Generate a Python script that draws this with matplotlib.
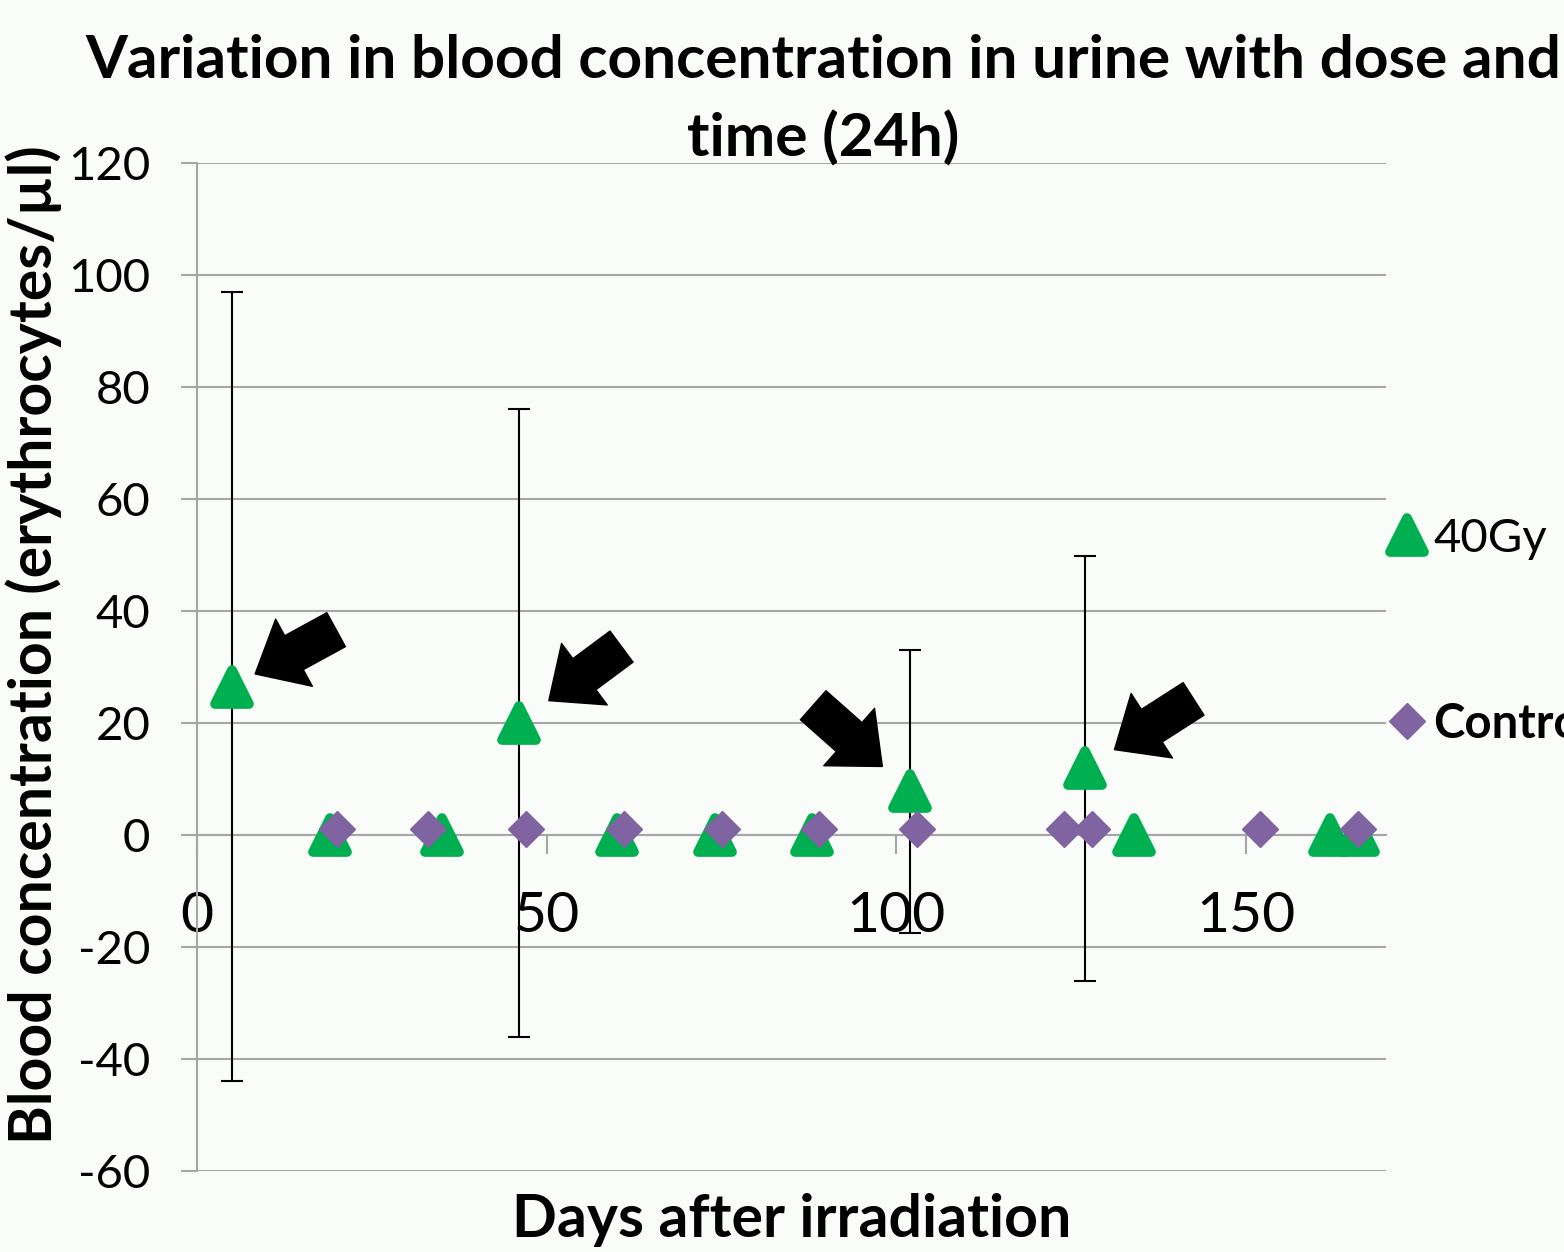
import numpy as np
import matplotlib.pyplot as plt
from matplotlib.markers import MarkerStyle

plt.rcParams['font.family'] = ['Lato', 'DejaVu Sans']
plt.rcParams['axes.unicode_minus'] = False

# 40Gy group (mean and error)
gy_days = [5, 19, 35, 46, 60, 74, 88, 102, 127, 134, 162, 166]
gy_blood = [26.5, 0, 0, 20, 0, 0, 0, 7.8, 11.9, 0, 0, 0]
gy_err = [70.5, 0, 0, 56, 0, 0, 0, 25.3, 38, 0, 0, 0]

# control group
ctrl_days = [20, 33, 47, 61, 75, 89, 103, 124, 128, 152, 166]
ctrl_blood = [1, 1, 1, 1, 1, 1, 1, 1, 1, 1, 1]

yticks = [-60, -40, -20, 0, 20, 40, 60, 80, 100, 120]
xticks = [0, 50, 100, 150]

# arrows pointing at the peaks: index in 40Gy series, tail offset (pt), gap (pt)
arrows = [(0, (75, 41), 19), (3, (74, 55), 27), (7, (-70, 62), 27), (8, (78, 50), 25)]

green = '#00B050'
purple = '#8064A2'
grid = '#A6A6A6'
bg = '#FAFCFA'

fig = plt.figure(figsize=(15.64, 12.52), dpi=100, facecolor=bg)
ax = fig.add_axes([197/1564, 81/1252, 1189/1564, 1008/1252], facecolor=bg)

ax.errorbar(gy_days, gy_blood, yerr=gy_err, fmt='none', ecolor='black',
            elinewidth=1.5, capsize=8, capthick=1.5, zorder=3)
tri = MarkerStyle('^', joinstyle='round')
l1, = ax.plot(gy_days, gy_blood, marker=tri, color=green, ms=24, mec=green, mew=7,
              linestyle='none', zorder=4)
l2, = ax.plot(ctrl_days, ctrl_blood, 'D', color=purple, ms=18, mec=purple,
              mew=1, linestyle='none', zorder=5)

for i, off, gap in arrows:
    ax.annotate('', xy=(gy_days[i], gy_blood[i]), xytext=off, textcoords='offset points',
                arrowprops=dict(arrowstyle='simple,head_length=0.55,head_width=0.95,tail_width=0.48',
                                fc='black', ec='black', mutation_scale=58,
                                shrinkA=0, shrinkB=gap),
                zorder=6)

ax.set_xlim(0, 170)
ax.set_ylim(-60, 120)
ax.set_yticks(yticks)
ax.set_xticks(xticks)
ax.grid(axis='y', color=grid, linewidth=1.5)
ax.set_axisbelow(True)

for s in ['top', 'right']:
    ax.spines[s].set_visible(False)
ax.spines['bottom'].set_position(('data', 0))
ax.spines['bottom'].set_color(grid)
ax.spines['left'].set_color(grid)
ax.spines['bottom'].set_linewidth(1.5)
ax.spines['left'].set_linewidth(1.5)

ax.tick_params(axis='y', length=11.5, width=1.5, color=grid, labelsize=34, pad=22)
ax.tick_params(axis='x', length=14, width=1.5, color=grid, labelsize=41, pad=26)

ax.set_ylabel('Blood concentration (erythrocytes/µl)', fontsize=42.5, fontweight='bold')
ax.yaxis.set_label_coords(-0.1135, 0.522)
ax.set_xlabel('Days after irradiation', fontsize=42.5, fontweight='bold')
ax.xaxis.set_label_coords(595/1189, -0.022)

fig.text(823/1564, 1 - 61/1252, 'Variation in blood concentration in urine with dose and',
         fontsize=43.5, fontweight='bold', ha='center', va='center')
fig.text(823/1564, 1 - 139/1252, 'time (24h)',
         fontsize=43.5, fontweight='bold', ha='center', va='center')

leg = ax.legend([l1, l2], ['40Gy', 'Control'], loc='center left',
                bbox_to_anchor=(1.0, 0.535), frameon=False, fontsize=34,
                labelspacing=3.0, handlelength=0.9, handletextpad=0.1,
                borderaxespad=0, borderpad=0)
leg.get_texts()[1].set_fontweight('bold')

fig.savefig('out.png', dpi=100, facecolor=bg)
